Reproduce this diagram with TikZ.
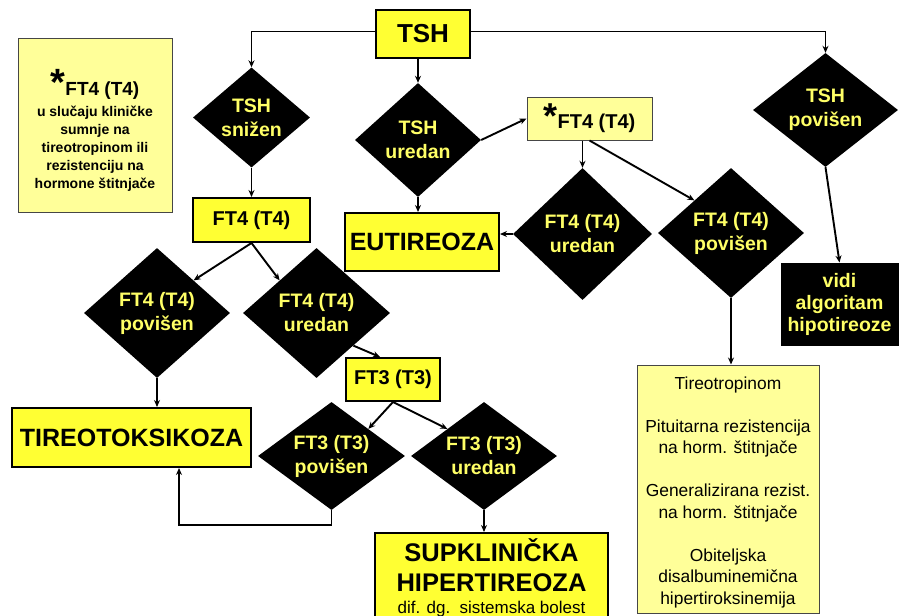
\documentclass[tikz,border=0pt]{standalone}
\usepackage{fontspec}
\setmainfont{Liberation Sans}
\usetikzlibrary{shapes.geometric,arrows.meta,calc}
\definecolor{byel}{RGB}{255,255,51}
\definecolor{lyel}{RGB}{255,255,153}
\definecolor{dyel}{RGB}{255,255,102}
\definecolor{bord}{RGB}{70,70,70}
\begin{document}
\begin{tikzpicture}[x=1pt,y=-1pt,
  box/.style={draw=black,line width=2pt,fill=byel,inner sep=0pt,font=\bfseries\fontsize{20}{24}\selectfont},
  bigbox/.style={box,font=\bfseries\fontsize{25}{30}\selectfont},
  lbox/.style={draw=bord,line width=1pt,fill=lyel,inner sep=0pt,align=center},
  ltext/.style={inner sep=0pt,align=center},
  dia/.style={diamond,fill=black,draw=none,inner sep=0pt},
  dtext/.style={text=dyel,font=\bfseries\fontsize{19.5}{24}\selectfont,align=center,inner sep=0pt},
  arr/.style={-{Stealth[length=7pt,width=6pt]},line width=1.9pt}]
\useasboundingbox (0,0) rectangle (900,616);
\clip (0,0) rectangle (900,616);
\fill[white] (0,0) rectangle (900,616);

% boxes
\node[box,minimum width=94,minimum height=48,font=\bfseries\fontsize{26}{30}\selectfont] (tsh) at (423,34) {TSH};
\node[lbox,minimum width=154,minimum height=174] (note) at (95,125) {};
\node[ltext,font=\bfseries\fontsize{14}{18}\selectfont] (notet) at (95,130)
  {{\fontsize{19}{20}\selectfont{\fontsize{38}{20}\selectfont*}FT4 (T4)}\\[3pt]
   u slučaju kliničke\\ sumnje na\\ tireotropinom ili\\ rezistenciju na\\ hormone štitnjače};
\node[lbox,minimum width=125,minimum height=43,font=\bfseries\fontsize{20}{24}\selectfont] (fb) at (589.5,118.5)
  {{\fontsize{36}{24}\selectfont*}FT4 (T4)};
\node[box,minimum width=117,minimum height=44] (ft4) at (251.5,220) {FT4 (T4)};
\node[bigbox,minimum width=154,minimum height=58] (eut) at (422,242) {EUTIREOZA};
\node[draw=black,line width=1pt,fill=black,text=dyel,inner sep=0pt,align=center,
  minimum width=117,minimum height=82,font=\bfseries\fontsize{19.5}{22}\selectfont] (vidi) at (839.5,304)
  {vidi\\algoritam\\hipotireoze};
\node[lbox,minimum width=182,minimum height=248] (tb) at (728,489) {};
\node[ltext,font=\fontsize{17.4}{21.5}\selectfont] (tbt) at (728,492)
  {Tireotropinom\\[21.5pt]
   Pituitarna rezistencija\\ na horm. štitnjače\\[21.5pt]
   Generalizirana rezist.\\ na horm. štitnjače\\[21.5pt]
   Obiteljska\\ disalbuminemična\\ hipertiroksinemija};
\node[bigbox,minimum width=239,minimum height=59] (tox) at (131.5,437.5) {TIREOTOKSIKOZA};
\node[box,minimum width=94,minimum height=43] (ft3) at (393,379.5) {FT3 (T3)};
\node[bigbox,anchor=north,minimum width=233,inner ysep=6pt,align=center,font=\bfseries\fontsize{25.5}{30}\selectfont] (sup) at (491.5,532)
  {SUPKLINIČKA\\HIPERTIREOZA\\[-8pt]
   {\mdseries\fontsize{17}{21}\selectfont dif. dg.\ \ sistemska bolest}};

% diamonds
\node[dia,minimum width=117,minimum height=100] (dsn) at (251.5,117.5) {};
\node[dtext] (dsnt) at (dsn) {TSH\\snižen};
\node[dia,minimum width=126,minimum height=114] (dur) at (418,140) {};
\node[dtext] (durt) at (dur) {TSH\\uredan};
\node[dia,minimum width=145,minimum height=114] (dpo) at (825.5,110) {};
\node[dtext] (dpot) at (dpo) {TSH\\povišen};
\node[dia,minimum width=139,minimum height=132] (dfur) at (582.5,234) {};
\node[dtext] (dfurt) at (dfur) {FT4 (T4)\\uredan};
\node[dia,minimum width=146,minimum height=130] (dfpr) at (731,233) {};
\node[dtext] (dfprt) at (dfpr) {FT4 (T4)\\povišen};
\node[dia,minimum width=146,minimum height=130] (dfpl) at (157,313) {};
\node[dtext] (dfplt) at (dfpl) {FT4 (T4)\\povišen};
\node[dia,minimum width=147,minimum height=130] (dful) at (316.5,313) {};
\node[dtext] (dfult) at (dful) {FT4 (T4)\\uredan};
\node[dia,minimum width=147,minimum height=108] (d3p) at (331.5,456) {};
\node[dtext] (d3pt) at (d3p) {FT3 (T3)\\povišen};
\node[dia,minimum width=146,minimum height=108] (d3u) at (484,456) {};
\node[dtext] (d3ut) at (d3u) {FT3 (T3)\\uredan};

% connectors
\draw[arr] ([yshift=2.5pt]tsh.west) -| (dsn.north);
\draw[arr] ([yshift=2.5pt]tsh.east) -| (dpo.north);
\draw[arr] (dur.north |- tsh.south) -- (dur.north);
\draw[arr] (dsn.south) -- (ft4.north);
\draw[arr] (dur.south) -- (dur.south |- eut.north);
\draw[arr] (dur.east) -- (fb.west);
\draw[arr] (dfur.north |- fb.south) -- (dfur.north);
\draw[arr] (fb.south) -- (dfpr.north west);
\draw[arr] (dfur.west) -- (dfur.west -| eut.east);
\draw[arr] (dpo.south) -- (vidi.north);
\draw[arr] (dfpr.south) -- (dfpr.south |- tb.north);
\draw[arr] (ft4.south) -- (dfpl.north east);
\draw[arr] (ft4.south) -- (dful.north west);
\draw[arr] (dfpl.south) -- (dfpl.south |- tox.north);
\draw[arr] (dful.south east) -- ([xshift=-13pt]ft3.north);
\draw[arr] (ft3.south) -- (d3p.north east);
\draw[arr] (ft3.south) -- (d3u.north west);
\coordinate (bend) at (179,525);
\draw[arr] (d3p.south) |- (bend) -- (bend |- tox.south);
\draw[arr] (d3u.south) -- (d3u.south |- sup.north);
\end{tikzpicture}
\end{document}
